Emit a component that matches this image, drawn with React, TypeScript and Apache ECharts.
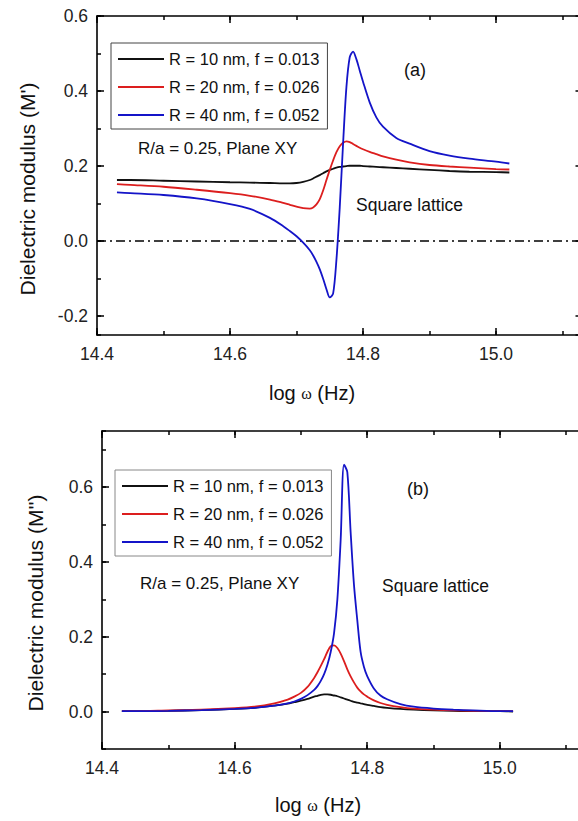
import React, { useEffect, useRef } from "react";
import * as echarts from "echarts";

// shared frequency grid, log ω (Hz)
const xVals = [14.43, 14.45, 14.5, 14.55, 14.6, 14.63, 14.66, 14.68, 14.69, 14.7, 14.71, 14.72, 14.725, 14.73, 14.735, 14.74, 14.745, 14.75, 14.755, 14.76, 14.765, 14.77, 14.775, 14.78, 14.785, 14.79, 14.795, 14.8, 14.81, 14.82, 14.83, 14.85, 14.87, 14.9, 14.93, 14.96, 15.0, 15.02];

const seriesNames = ["R = 10 nm, f = 0.013", "R = 20 nm, f = 0.026", "R = 40 nm, f = 0.052"];
const seriesColors = ["#111111", "#dc1e1e", "#1414c8"];

// Panel (a): M'
const mReal10 = [0.163, 0.163, 0.161, 0.159, 0.157, 0.156, 0.155, 0.154, 0.154, 0.155, 0.158, 0.163, 0.167, 0.172, 0.176, 0.181, 0.186, 0.19, 0.193, 0.196, 0.198, 0.199, 0.2, 0.201, 0.201, 0.201, 0.201, 0.2, 0.199, 0.198, 0.197, 0.195, 0.193, 0.19, 0.187, 0.185, 0.184, 0.183];
const mReal20 = [0.152, 0.15, 0.145, 0.137, 0.128, 0.121, 0.111, 0.102, 0.097, 0.092, 0.088, 0.087, 0.09, 0.098, 0.112, 0.135, 0.163, 0.19, 0.215, 0.237, 0.253, 0.262, 0.266, 0.264, 0.259, 0.254, 0.249, 0.245, 0.238, 0.232, 0.226, 0.217, 0.21, 0.203, 0.199, 0.196, 0.192, 0.191];
const mReal40 = [0.13, 0.128, 0.123, 0.114, 0.099, 0.086, 0.062, 0.04, 0.027, 0.013, -0.004, -0.024, -0.038, -0.055, -0.075, -0.1, -0.128, -0.15, -0.14, -0.05, 0.09, 0.26, 0.41, 0.49, 0.505, 0.485, 0.455, 0.425, 0.37, 0.33, 0.305, 0.275, 0.26, 0.24, 0.228, 0.22, 0.212, 0.207];

// Panel (b): M''
const mImag10 = [0.001, 0.001, 0.002, 0.004, 0.007, 0.01, 0.016, 0.021, 0.025, 0.029, 0.034, 0.04, 0.042, 0.045, 0.046, 0.046, 0.045, 0.043, 0.041, 0.038, 0.035, 0.032, 0.029, 0.026, 0.024, 0.022, 0.02, 0.018, 0.015, 0.012, 0.01, 0.007, 0.005, 0.003, 0.002, 0.001, 0.001, 0.0];
const mImag20 = [0.001, 0.001, 0.003, 0.005, 0.009, 0.013, 0.022, 0.032, 0.04, 0.05, 0.066, 0.09, 0.105, 0.122, 0.14, 0.16, 0.175, 0.177, 0.17, 0.155, 0.135, 0.113, 0.094, 0.078, 0.064, 0.054, 0.046, 0.04, 0.03, 0.023, 0.018, 0.012, 0.008, 0.005, 0.003, 0.002, 0.001, 0.001];
const mImag40 = [0.001, 0.001, 0.002, 0.004, 0.007, 0.01, 0.016, 0.022, 0.027, 0.034, 0.044, 0.058, 0.068, 0.082, 0.1, 0.125, 0.16, 0.21, 0.3, 0.46, 0.66, 0.64, 0.48, 0.34, 0.245, 0.16, 0.12, 0.095, 0.062, 0.043, 0.033, 0.02, 0.013, 0.008, 0.005, 0.003, 0.001, 0.001];

const xMin = 14.4;
const xMax = 15.13;
const yRangeA = [-0.25, 0.6];
const yRangeB = [-0.1, 0.75];

const FONT = "'Liberation Sans', Arial, sans-serif";

function xAxes(gridIndex: number) {
  const base = {
    type: "value", gridIndex, min: xMin, max: xMax,
    splitLine: { show: false },
  };
  const line = { show: true, onZero: false, lineStyle: { color: "#000", width: 1.6 } };
  const noLine = { show: false, onZero: false };
  return [
    {
      ...base, position: "bottom", interval: 0.2, axisLine: line,
      axisTick: { show: true, inside: true, length: 7, lineStyle: { color: "#000", width: 1.5 } },
      axisLabel: { show: true, margin: 10, fontSize: 17.5, color: "#222", fontFamily: FONT, showMaxLabel: false, formatter: (v: number) => v.toFixed(1) },
    },
    {
      ...base, position: "bottom", interval: 0.1, axisLine: noLine,
      axisTick: { show: true, inside: true, length: 4, lineStyle: { color: "#000", width: 1.5 } },
      axisLabel: { show: false },
    },
    {
      ...base, position: "top", interval: 0.2, axisLine: line,
      axisTick: { show: true, inside: true, length: 7, lineStyle: { color: "#000", width: 1.5 } },
      axisLabel: { show: false },
    },
    {
      ...base, position: "top", interval: 0.1, axisLine: noLine,
      axisTick: { show: true, inside: true, length: 4, lineStyle: { color: "#000", width: 1.5 } },
      axisLabel: { show: false },
    },
  ];
}

function yAxes(gridIndex: number, range: number[], showMax: boolean) {
  const base = {
    type: "value", gridIndex, min: range[0], max: range[1],
    splitLine: { show: false },
  };
  const line = { show: true, onZero: false, lineStyle: { color: "#000", width: 1.6 } };
  const noLine = { show: false, onZero: false };
  return [
    {
      ...base, position: "left", splitNumber: 5, axisLine: line,
      axisTick: { show: true, inside: true, length: 7, lineStyle: { color: "#000", width: 1.5 } },
      axisLabel: { show: true, margin: 9, fontSize: 17.5, color: "#222", fontFamily: FONT, showMinLabel: false, showMaxLabel: showMax, formatter: (v: number) => v.toFixed(1) },
    },
    {
      ...base, position: "left", splitNumber: 9, axisLine: noLine,
      axisTick: { show: true, inside: true, length: 4, lineStyle: { color: "#000", width: 1.5 } },
      axisLabel: { show: false },
    },
    {
      ...base, position: "right", splitNumber: 5, axisLine: line,
      axisTick: { show: true, inside: true, length: 7, lineStyle: { color: "#000", width: 1.5 } },
      axisLabel: { show: false },
    },
    {
      ...base, position: "right", splitNumber: 9, axisLine: noLine,
      axisTick: { show: true, inside: true, length: 4, lineStyle: { color: "#000", width: 1.5 } },
      axisLabel: { show: false },
    },
  ];
}

function makeSeries(values: number[][], xAxisIndex: number, yAxisIndex: number, withZeroLine: boolean) {
  return values.map((arr, i) => {
    const s: any = {
      type: "line",
      name: seriesNames[i],
      xAxisIndex, yAxisIndex,
      data: xVals.map((x, k) => [x, arr[k]]),
      showSymbol: false,
      smooth: 0.3,
      color: seriesColors[i],
      lineStyle: { color: seriesColors[i], width: 1.8 },
      z: 3 + i,
    };
    if (withZeroLine && i === 0) {
      s.markLine = {
        silent: true,
        symbol: ["none", "none"],
        label: { show: false },
        lineStyle: { color: "#000", width: 1.5, type: [9, 4, 2, 4] },
        data: [{ yAxis: 0 }],
        z: 1,
      };
    }
    return s;
  });
}

function legendBox(left: number, top: number, border: string) {
  return {
    data: seriesNames,
    left, top,
    orient: "vertical",
    icon: "rect",
    itemWidth: 46,
    itemHeight: 2,
    itemGap: 10,
    padding: [7, 8, 5, 7],
    borderColor: border,
    borderWidth: 1,
    backgroundColor: "#fff",
    selectedMode: false,
    textStyle: { fontSize: 16.5, fontFamily: FONT, color: "#111", lineHeight: 18 },
  };
}

function txt(text: string, x: number, y: number, size: number, align = "left", extra: any = {}) {
  return {
    type: "text", x, y, z: 100,
    ...extra,
    style: {
      text, fontSize: size, fontFamily: FONT, fill: "#111",
      align, textAlign: align, verticalAlign: "middle", textVerticalAlign: "middle",
      ...(extra.style || {}),
    },
  };
}

function xTitle(x: number, y: number) {
  return {
    type: "text", x, y, z: 100,
    style: {
      text: "{a|log }{w|ω}{a| (Hz)}",
      align: "center", textAlign: "center", verticalAlign: "middle", textVerticalAlign: "middle",
      fill: "#111",
      rich: {
        a: { fontSize: 20, fontFamily: FONT, fill: "#111" },
        w: { fontSize: 16, fontFamily: "'Liberation Serif', 'DejaVu Serif', serif", fill: "#111" },
      },
    },
  };
}

export default function App() {
  const ref = useRef<HTMLDivElement>(null);
  useEffect(() => {
    if (!ref.current) return;
    const chart = echarts.init(ref.current, null, { renderer: "svg" });
    const option: any = {
      animation: false,
      backgroundColor: "#fff",
      grid: [
        { left: 97, top: 16, width: 485.5, height: 319 },
        { left: 102, top: 431, width: 484, height: 318 },
      ],
      xAxis: [...xAxes(0), ...xAxes(1)],
      yAxis: [...yAxes(0, yRangeA, true), ...yAxes(1, yRangeB, false)],
      legend: [legendBox(111, 43, "#444"), legendBox(115, 470, "#888")],
      series: [
        ...makeSeries([mReal10, mReal20, mReal40], 0, 0, true),
        ...makeSeries([mImag10, mImag20, mImag40], 4, 4, false),
      ],
      graphic: [
        txt("(a)", 415, 70, 18, "center"),
        txt("R/a = 0.25, Plane XY", 138, 148, 17),
        txt("Square lattice", 356, 205, 17.5),
        txt("(b)", 418, 489, 18, "center"),
        txt("R/a = 0.25, Plane XY", 140, 583, 17),
        txt("Square lattice", 382, 586, 17.5),
        xTitle(312, 393),
        xTitle(318, 805),
        txt("Dielectric modulus (M')", 27, 189, 21, "center", { rotation: Math.PI / 2 }),
        txt("Dielectric modulus (M'')", 35, 603, 21, "center", { rotation: Math.PI / 2 }),
      ],
    };
    chart.setOption(option);
    return () => chart.dispose();
  }, []);
  return (
    <div style={{ position: "fixed", left: 0, top: 0, width: 578, height: 821, overflow: "hidden", background: "#fff" }}>
      <div ref={ref} style={{ width: 600, height: 821 }} />
    </div>
  );
}
